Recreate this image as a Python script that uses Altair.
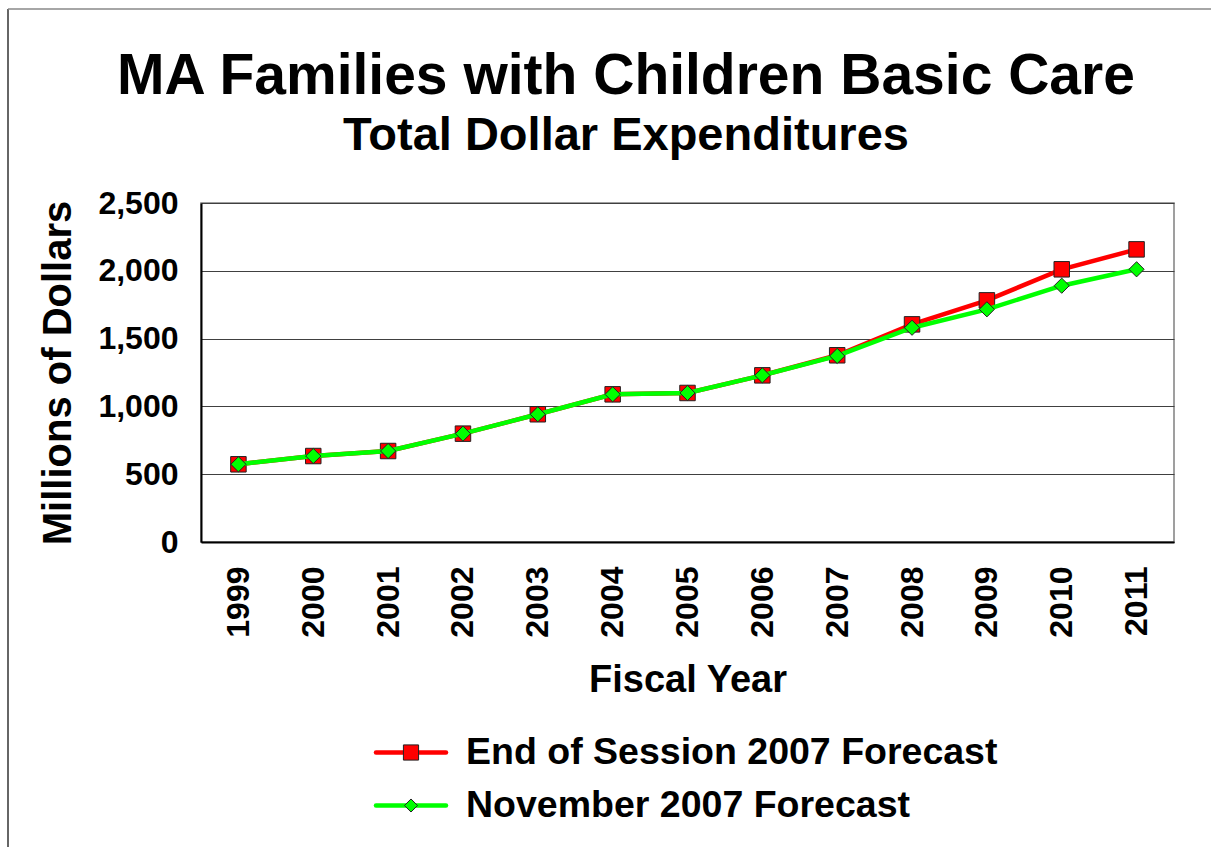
import altair as alt
import pandas as pd

years = ["1999", "2000", "2001", "2002", "2003", "2004", "2005", "2006",
         "2007", "2008", "2009", "2010", "2011"]
end_session = [573, 634, 671, 799, 942, 1089, 1099, 1229, 1377, 1605, 1782, 2011, 2158]
november = [573, 634, 671, 799, 942, 1089, 1099, 1229, 1372, 1580, 1716, 1890, 2011]
series_names = ["End of Session 2007 Forecast", "November 2007 Forecast"]
y_ticks = [0, 500, 1000, 1500, 2000, 2500]
title_text = ["MA Families with Children Basic Care"]
subtitle_text = ["Total Dollar Expenditures"]

FONT = "Liberation Sans"

df = pd.DataFrame({
    "year": years * 2,
    "value": end_session + november,
    "series": [series_names[0]] * len(years) + [series_names[1]] * len(years),
})

x_enc = alt.X("year:O", sort=years,
              axis=alt.Axis(title="Fiscal Year", labelAngle=270, labelAlign="right",
                            labelBaseline="middle", labelPadding=24, ticks=False,
                            labelFontSize=32, titleFontSize=38, titlePadding=24,
                            domainColor="black", domainWidth=2),
              scale=alt.Scale(paddingInner=0, paddingOuter=0.5))
y_enc = alt.Y("value:Q",
              scale=alt.Scale(domain=[0, 2500], nice=False),
              axis=alt.Axis(title="Millions of Dollars", values=y_ticks, format=",.0f",
                            ticks=False, labelPadding=23, labelFontSize=32,
                            titleFontSize=40, titlePadding=19,
                            grid=True, gridColor="#404040", gridWidth=1,
                            domainColor="black", domainWidth=2))

base = alt.Chart(df)
red = base.transform_filter(alt.datum.series == series_names[0])
green = base.transform_filter(alt.datum.series == series_names[1])

red_line = red.mark_line(color="#FF0000", strokeWidth=4.5).encode(x=x_enc, y=y_enc)
red_pts = red.mark_point(shape="square", filled=True, fill="#FF0000", stroke="#222222",
                         strokeWidth=1, size=240, opacity=1).encode(x=x_enc, y=y_enc)
green_line = green.mark_line(color="#00FF00", strokeWidth=4.5).encode(x=x_enc, y=y_enc)
green_pts = green.mark_point(shape="diamond", filled=True, fill="#00FF00", stroke="#222222",
                             strokeWidth=1, size=230, opacity=1).encode(x=x_enc, y=y_enc)

one = pd.DataFrame({"title": title_text, "subtitle": subtitle_text})
title_mark = alt.Chart(one).mark_text(
    font=FONT, fontSize=57, fontWeight="bold", color="black",
    align="center", baseline="alphabetic").encode(
    text="title:N", x=alt.value(425), y=alt.value(-109))
subtitle_mark = alt.Chart(one).mark_text(
    font=FONT, fontSize=47, fontWeight="bold", color="black",
    align="center", baseline="alphabetic").encode(
    text="subtitle:N", x=alt.value(425), y=alt.value(-53))
frame_left = alt.Chart(one).mark_rule(color="#333333", strokeWidth=1.5).encode(
    x=alt.value(-193), y=alt.value(-194), y2=alt.value(644))
frame_top = alt.Chart(one).mark_rule(color="#888888", strokeWidth=1.5).encode(
    x=alt.value(-193), x2=alt.value(1010), y=alt.value(-194))

main = alt.layer(frame_left, frame_top, title_mark, subtitle_mark,
                 red_line, red_pts, green_line, green_pts).properties(
    width=973, height=339,
    view=alt.ViewBackground(stroke="#808080", strokeWidth=1.5))

leg_df = pd.DataFrame({"series": series_names})
leg_y = alt.Y("series:N", sort=series_names, axis=None,
              scale=alt.Scale(type="point", padding=0.5))
leg_base = alt.Chart(leg_df)
leg_color = alt.Color("series:N", sort=series_names,
                      scale=alt.Scale(domain=series_names, range=["#FF0000", "#00FF00"]),
                      legend=None)
leg_rule = leg_base.mark_rule(strokeWidth=4.5, strokeCap="round").encode(
    x=alt.value(175), x2=alt.value(245), y=leg_y, color=leg_color)
leg_sq = leg_base.transform_filter(alt.datum.series == series_names[0]).mark_point(
    shape="square", filled=True, fill="#FF0000", stroke="#222222", strokeWidth=1,
    size=230, opacity=1).encode(x=alt.value(210), y=leg_y)
leg_dm = leg_base.transform_filter(alt.datum.series == series_names[1]).mark_point(
    shape="diamond", filled=True, fill="#00FF00", stroke="#222222", strokeWidth=1,
    size=170, opacity=1).encode(x=alt.value(210), y=leg_y)
leg_text = leg_base.mark_text(align="left", baseline="middle", fontSize=37.5,
                              fontWeight="bold", font=FONT, color="black").encode(
    x=alt.value(265), y=leg_y, text="series:N")
legend = alt.layer(leg_rule, leg_sq, leg_dm, leg_text).properties(
    width=973, height=106,
    view=alt.ViewBackground(strokeWidth=0, stroke="white"))

chart = alt.vconcat(main, legend, spacing=184, bounds="flush").properties(
    padding={"left": 6, "top": 7, "right": 0, "bottom": 0},
    background="white",
).configure_axis(
    labelFont=FONT, titleFont=FONT, labelFontWeight="bold", titleFontWeight="bold",
    labelColor="black", titleColor="black",
).configure_axisX(grid=False)

chart.save("out.html", embed_options={"renderer": "svg", "actions": False})
